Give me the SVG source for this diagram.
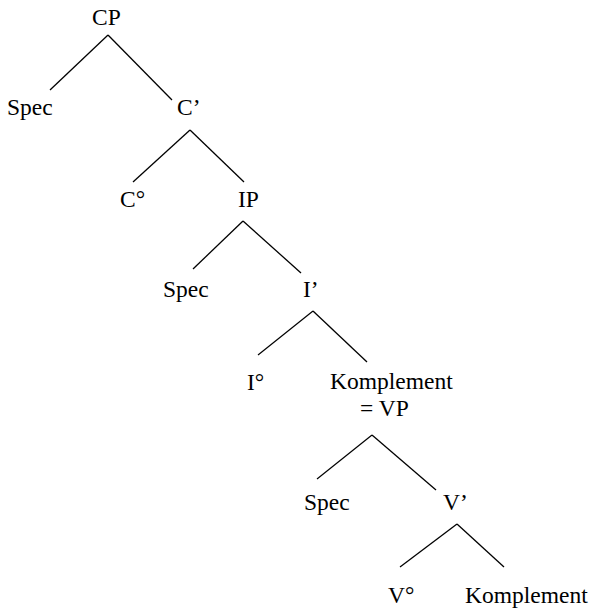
<svg xmlns="http://www.w3.org/2000/svg" width="594" height="609" viewBox="0 0 594 609">
<style>
text{font-family:"Liberation Serif","Times New Roman",serif;font-size:23.5px;fill:#000}
.e line{stroke:#000;stroke-width:1.3;fill:none}
</style>
<rect width="594" height="609" fill="#fff"/>
<g class="e" id="connectors">
<line x1="108" y1="35" x2="50" y2="90"/>
<line x1="108" y1="35" x2="172" y2="100"/>
<line x1="190" y1="130" x2="133" y2="182"/>
<line x1="190" y1="130" x2="244" y2="182"/>
<line x1="243" y1="221" x2="193" y2="269"/>
<line x1="243" y1="221" x2="301" y2="273"/>
<line x1="313" y1="311" x2="258" y2="355"/>
<line x1="313" y1="311" x2="367" y2="362"/>
<line x1="372" y1="435" x2="317" y2="479"/>
<line x1="372" y1="435" x2="436" y2="490"/>
<line x1="457" y1="524" x2="400" y2="567"/>
<line x1="457" y1="524" x2="504" y2="567"/>
</g>
<g id="CP"><text x="92" y="25">CP</text></g>
<g id="SpecC"><text x="7" y="115">Spec</text></g>
<g id="Cbar"><text x="177" y="115">C’</text></g>
<g id="C0"><text x="120" y="207">C°</text></g>
<g id="IP"><text x="238" y="207">IP</text></g>
<g id="SpecI"><text x="163" y="297">Spec</text></g>
<g id="Ibar"><text x="303" y="297">I’</text></g>
<g id="I0"><text x="247" y="390">I°</text></g>
<g id="KomplementVP"><text x="330" y="389">Komplement</text><text x="360" y="416">= VP</text></g>
<g id="SpecV"><text x="304" y="510">Spec</text></g>
<g id="Vbar"><text x="443" y="510">V’</text></g>
<g id="V0"><text x="388" y="603">V°</text></g>
<g id="Komplement"><text x="465" y="603">Komplement</text></g>
</svg>
